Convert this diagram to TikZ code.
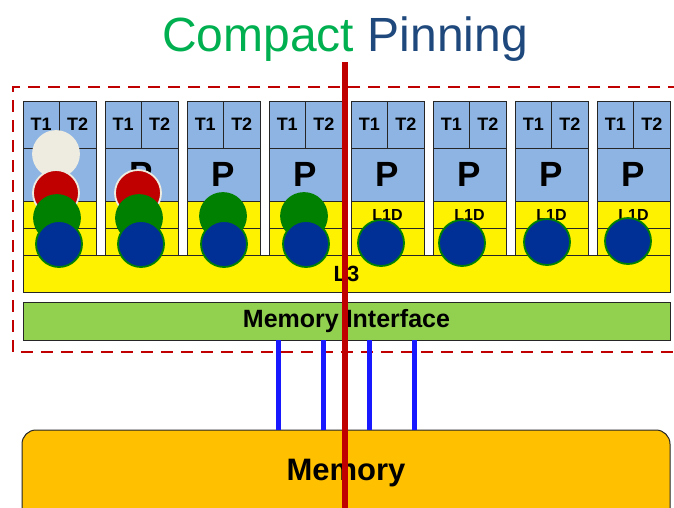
\documentclass[tikz,border=0pt]{standalone}
\usepackage{fontspec}
\setmainfont{Liberation Sans}
\usetikzlibrary{calc}
\definecolor{cgreen}{RGB}{0,176,80}
\definecolor{cnavy}{RGB}{31,73,125}
\definecolor{dred}{RGB}{192,0,0}
\definecolor{lblue}{RGB}{141,180,226}
\definecolor{migreen}{RGB}{146,208,80}
\definecolor{memorange}{RGB}{255,192,0}
\definecolor{cream}{RGB}{238,236,225}
\definecolor{ballgreen}{RGB}{0,128,0}
\definecolor{ballblue}{RGB}{0,48,150}
\definecolor{wire}{RGB}{25,25,255}
\begin{document}
\begin{tikzpicture}[x=1pt,y=-1pt,
  cell/.style={draw=black!85, line width=1pt, inner sep=0pt, outer sep=0pt, anchor=north west, font=\bfseries},
  tcell/.style={cell, fill=lblue, minimum width=36.5pt, minimum height=47pt, font=\fontsize{18}{18}\selectfont\bfseries},
  pcell/.style={cell, fill=lblue, minimum width=73pt, minimum height=53pt, font=\fontsize{35}{35}\selectfont\bfseries},
  ycell/.style={cell, fill=yellow, minimum width=73pt, minimum height=27pt},
  ball/.style={circle, minimum size=46pt, inner sep=0pt, line width=1.8pt},
  wball/.style={ball, fill=cream, draw=cream},
  rball/.style={ball, fill=dred, draw=cream},
  gball/.style={ball, fill=ballgreen, draw=ballgreen},
  bball/.style={ball, fill=ballblue, draw=ballgreen},
  wireline/.style={draw=wire, line width=5pt},
  pinline/.style={draw=dred, line width=6pt},
  boundary/.style={draw=dred, line width=2.5pt, dash pattern=on 12pt off 8pt}
]
\useasboundingbox (0,0) rectangle (674,507);

% title
\node[anchor=base, font=\fontsize{48}{48}\selectfont, inner sep=0pt] (title) at (345,51)
  {\textcolor{cgreen}{Compact} \textcolor{cnavy}{Pinning}};

% socket boundary
\draw[boundary] (680,87) -- (13,87) -- (13,352) -- (680,352);

% cores
\foreach \i in {0,...,7}{
  \pgfmathsetmacro{\xa}{23+82*\i}
  \node[tcell] (t1-\i) at (\xa,101) {T1};
  \node[tcell] (t2-\i) at (\xa+36.5,101) {T2};
  \node[pcell] (p-\i) at (\xa,148) {P};
  \node[ycell] (l1-\i) at (\xa,201) {};
  \node[ycell] (l2-\i) at (\xa,228) {};
  \node[font=\fontsize{16}{16}\selectfont\bfseries, inner sep=0pt] (l1t-\i) at (\xa+36.5,215) {L1D};
}

% L3 and memory interface
\node[cell, fill=yellow, minimum width=647pt, minimum height=37pt,
      font=\fontsize{22}{22}\selectfont\bfseries] (l3) at (23,255) {L3};
\node[cell, fill=migreen, minimum width=647pt, minimum height=38pt,
      font=\fontsize{25}{25}\selectfont\bfseries] (mi) at (23,302) {Memory Interface};

% memory
\node[cell, fill=memorange, rounded corners=14pt, minimum width=648pt, minimum height=110pt] (mem) at (22,430) {};
\node[font=\fontsize{31}{31}\selectfont\bfseries, inner sep=0pt] (memt) at (346,473) {Memory};

% wires
\foreach \k/\wx in {1/278,2/323,3/369,4/414}{
  \coordinate (wx\k) at (\wx,0);
  \draw[wireline] (mi.south -| wx\k) -- (mem.north -| wx\k);
}

% thread balls
\node[wball] (w1) at (56,154) {};
\node[rball] (r1) at (56,193) {};
\node[rball] (r2) at (138,193) {};
\node[gball] (g1) at (57,218) {};
\node[gball] (g2) at (139,218) {};
\node[gball] (g3) at (223,216) {};
\node[gball] (g4) at (304,216) {};
\node[bball] (b1) at (59,244) {};
\node[bball] (b2) at (141,244) {};
\node[bball] (b3) at (224,244) {};
\node[bball] (b4) at (306,244) {};
\node[bball] (b5) at (381,243) {};
\node[bball] (b6) at (462,243) {};
\node[bball] (b7) at (547,242) {};
\node[bball] (b8) at (628,241) {};

% pinning line
\coordinate (pintop) at (345,62);
\coordinate (pinbot) at (345,520);
\draw[pinline] (pintop) -- (pinbot);
\end{tikzpicture}
\end{document}
